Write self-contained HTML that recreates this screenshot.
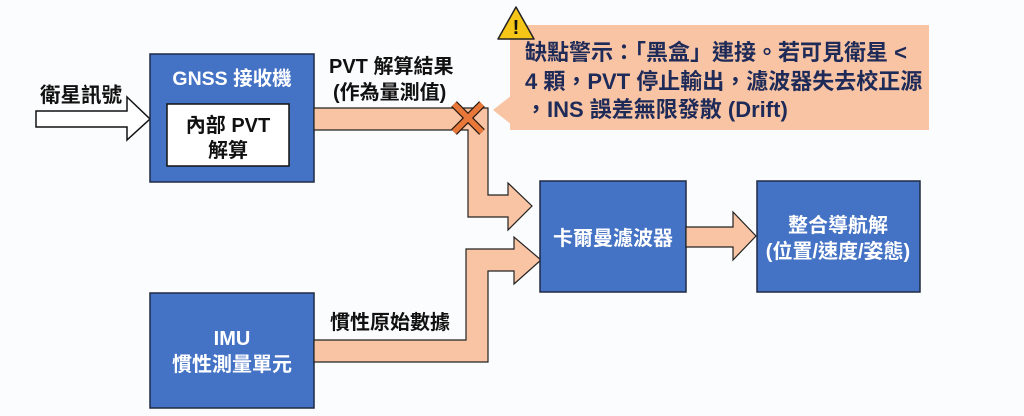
<!DOCTYPE html>
<html><head><meta charset="utf-8"><style>
html,body{margin:0;padding:0;background:#fbfcfd;}
svg{display:block}
text{font-family:"Liberation Sans","Noto Sans CJK TC",sans-serif;font-weight:bold;}
</style></head><body>
<svg width="1024" height="416" viewBox="0 0 1024 416" xmlns="http://www.w3.org/2000/svg">
<rect width="1024" height="416" fill="#fbfcfd"/>
<polygon points="36,111 127,111 127,97 150,119 127,140 127,127 36,127" fill="#fff" stroke="#111" stroke-width="1.5"/>
<text x="40" y="102" font-size="20.5" fill="#111">衛星訊號</text>
<rect x="150" y="54" width="164" height="128" fill="#4472c4" stroke="#1f2a44" stroke-width="1.5"/>
<text x="232" y="85" font-size="19.5" fill="#fff" text-anchor="middle">GNSS 接收機</text>
<rect x="167" y="104" width="122" height="62" fill="#fff" stroke="#111" stroke-width="1.5"/>
<text x="228" y="132" font-size="20" fill="#111" text-anchor="middle">內部 PVT</text>
<text x="228" y="157" font-size="20" fill="#111" text-anchor="middle">解算</text>
<polygon points="314,108 488,108 488,195 508,195 508,183 532,206 508,230 508,217 468,217 468,130 314,130" fill="#f8c4a4" stroke="#222" stroke-width="1.2"/>
<text x="329" y="73" font-size="20" fill="#111">PVT 解算結果</text>
<text x="333" y="99" font-size="20" fill="#111">(作為量測值)</text>
<g stroke="#2a1a10" stroke-width="8"><line x1="454" y1="104" x2="482" y2="132"/><line x1="482" y1="104" x2="454" y2="132"/></g>
<g stroke="#e8773a" stroke-width="5.5"><line x1="454" y1="104" x2="482" y2="132"/><line x1="482" y1="104" x2="454" y2="132"/></g>
<rect x="150" y="293" width="164" height="115" fill="#4472c4" stroke="#1f2a44" stroke-width="1.5"/>
<text x="232" y="345" font-size="20" fill="#fff" text-anchor="middle">IMU</text>
<text x="232" y="371" font-size="20" fill="#fff" text-anchor="middle">慣性測量單元</text>
<polygon points="314,340 466,340 466,249 514,249 514,237 541,260 514,284 514,271 488,271 488,362 314,362" fill="#f8c4a4" stroke="#222" stroke-width="1.2"/>
<text x="330" y="329" font-size="20" fill="#111">慣性原始數據</text>
<rect x="540" y="181" width="146" height="111" fill="#4472c4" stroke="#1f2a44" stroke-width="1.5"/>
<text x="613" y="245" font-size="20" fill="#fff" text-anchor="middle">卡爾曼濾波器</text>
<polygon points="686,227 733,227 733,212 756,236 733,260 733,247 686,247" fill="#f8c4a4" stroke="#222" stroke-width="1.2"/>
<rect x="757" y="181" width="163" height="111" fill="#4472c4" stroke="#1f2a44" stroke-width="1.5"/>
<text x="838" y="232" font-size="20" fill="#fff" text-anchor="middle">整合導航解</text>
<text x="838" y="258" font-size="20" fill="#fff" text-anchor="middle">(位置/速度/姿態)</text>
<polygon points="512,95 493,110 512,125" fill="#f8c4a4"/>
<rect x="510" y="25" width="419" height="105" fill="#f8c4a4"/>
<polygon points="516,7 498,39 534,39" fill="#f5c518" stroke="#222" stroke-width="1.5" stroke-linejoin="round"/>
<text x="516" y="34" font-size="20" fill="#111" text-anchor="middle">!</text>
<g font-size="22" fill="#1e2a58">
<text x="525" y="60">缺點警示：「黑盒」連接。若可見衛星 &lt;</text>
<text x="525" y="89">4 顆，PVT 停止輸出，濾波器失去校正源</text>
<text x="525" y="117">，INS 誤差無限發散 (Drift)</text>
</g>
</svg>
</body></html>
